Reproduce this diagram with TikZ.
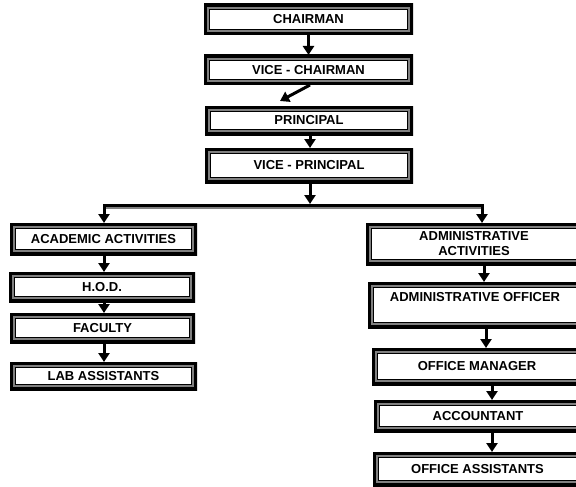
\documentclass[tikz,border=0pt]{standalone}
\usepackage{fontspec}
\setmainfont{Liberation Sans}
\usetikzlibrary{arrows.meta,calc}
\tikzset{
  orgbox/.style args={#1x#2}{minimum width=#1pt, minimum height=#2pt, inner sep=0pt, outer sep=0pt,
     font=\fontsize{13}{15}\selectfont\bfseries, align=center, fill=white,
     path picture={
       \draw[black, line width=6.5pt] (path picture bounding box.south west) rectangle (path picture bounding box.north east);
       \draw[black!50, line width=1.6pt] ([shift={(4pt,4pt)}]path picture bounding box.south west) rectangle ([shift={(-4pt,-4pt)}]path picture bounding box.north east);
       \draw[black, line width=1pt] ([shift={(5.3pt,5.3pt)}]path picture bounding box.south west) rectangle ([shift={(-5.3pt,-5.3pt)}]path picture bounding box.north east);
     }},
  conn/.style={line width=3pt, -{Triangle[width=11pt,length=9pt]}},
  busline/.style={line width=3pt, line cap=rect},
  busshade/.style={black!50, line width=1.5pt},
}
\begin{document}
\begin{tikzpicture}[x=1pt,y=-1pt]
\useasboundingbox (0,0) rectangle (576,487);
\clip (0,0) rectangle (576,487);

\node[orgbox=209x31] (ch) at (308.5,19.5) {CHAIRMAN};
\node[orgbox=209x30] (vc) at (308.5,70) {VICE - CHAIRMAN};
\node[orgbox=208x29] (pr) at (309,120.5) {PRINCIPAL};
\node[orgbox=208x35] (vp) at (309,165.5) {VICE - PRINCIPAL};

\node[orgbox=187x32] (aa) at (103.5,239) {ACADEMIC ACTIVITIES};
\node[orgbox=186x30] (hod) at (102,287) {H.O.D.};
\node[orgbox=185x30] (fac) at (102.5,328) {FACULTY};
\node[orgbox=187x28] (lab) at (103.5,376) {LAB ASSISTANTS};

\node[orgbox=216x42] (adm) at (474,244) {ADMINISTRATIVE\\ACTIVITIES};
\node[orgbox=214x46, font=\fontsize{13}{16}\selectfont\bfseries] (ao) at (475,305) {ADMINISTRATIVE OFFICER\\\mbox{}};
\node[orgbox=210x37] (om) at (477,366.5) {OFFICE MANAGER};
\node[orgbox=208x32] (acc) at (478,416) {ACCOUNTANT};
\node[orgbox=209x34] (oa) at (477.5,469) {OFFICE ASSISTANTS};

\coordinate (bus) at (310,205.5);
\coordinate (busL) at (104,205.5);
\coordinate (busR) at (482,205.5);

\draw[conn] (ch) -- (vc);
\draw[conn] ([xshift=1.5pt]vc.south) -- ([xshift=-29pt,yshift=5pt]pr.north);
\draw[conn] ([xshift=1pt]pr.south) -- ([xshift=1pt]vp.north);

\draw[busshade] ([yshift=-2.5pt]busL) -- ([yshift=-2.5pt]busR);
\draw[busline] (busL) -- (busR);
\draw[conn] (vp.south -| bus) -- ([yshift=1.5pt]bus);
\draw[conn] (busL) -- (aa.north -| busL);
\draw[conn] (busR) -- (adm.north -| busR);

\draw[conn] (aa.south -| busL) -- (hod.north -| busL);
\draw[conn] (hod.south -| busL) -- (fac.north -| busL);
\draw[conn] (fac.south -| busL) -- (lab.north -| busL);

\draw[conn] ([xshift=10pt]adm.south) -- ([xshift=9pt]ao.north);
\draw[conn] ([xshift=11pt]ao.south) -- ([xshift=9pt]om.north);
\draw[conn] ([xshift=15pt]om.south) -- ([xshift=14pt]acc.north);
\draw[conn] ([xshift=14pt]acc.south) -- ([xshift=14.5pt]oa.north);
\end{tikzpicture}
\end{document}
